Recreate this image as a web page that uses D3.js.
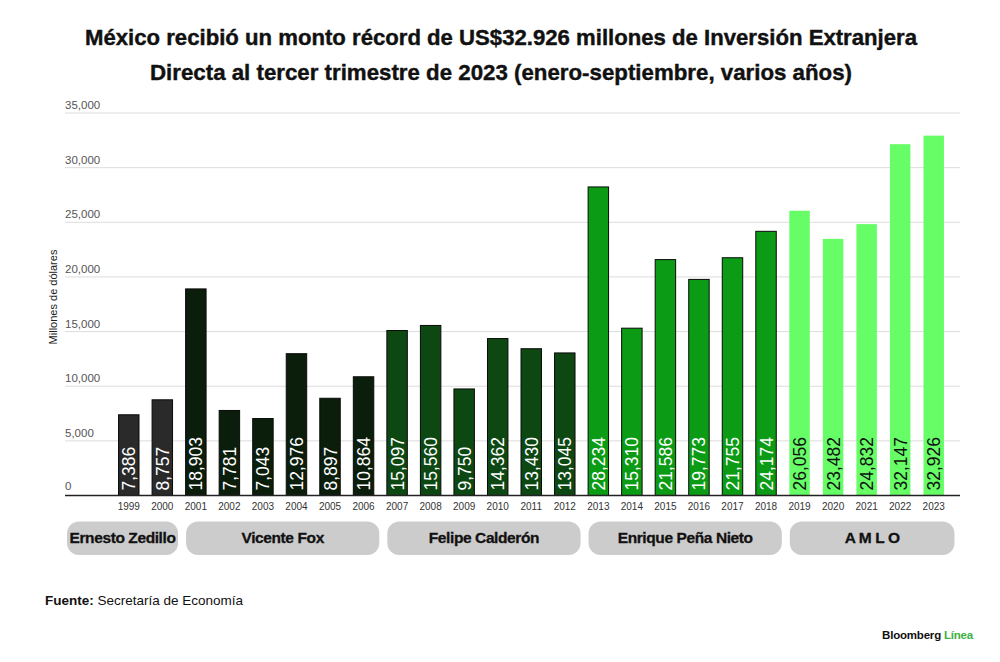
<!DOCTYPE html>
<html>
<head>
<meta charset="utf-8">
<script src="https://cdn.jsdelivr.net/npm/d3@7"></script>
<style>
  body { margin: 0; background: #fff; }
  svg { display: block; font-family: "Liberation Sans", Arial, sans-serif; }
</style>
</head>
<body>
<div id="chart"></div>
<script>
const years = [1999, 2000, 2001, 2002, 2003, 2004, 2005, 2006, 2007, 2008, 2009, 2010, 2011, 2012,
  2013, 2014, 2015, 2016, 2017, 2018, 2019, 2020, 2021, 2022, 2023];
const values = [7386, 8757, 18903, 7781, 7043, 12976, 8897, 10864, 15097, 15560, 9750, 14362, 13430, 13045,
  28234, 15310, 21586, 19773, 21755, 24174, 26056, 23482, 24832, 32147, 32926];
const presidents = ['Ernesto Zedillo', 'Vicente Fox', 'Felipe Calderón', 'Enrique Peña Nieto', 'A M L O'];
const termStart = [1999, 2001, 2007, 2013, 2019];
const termEnd = [2000, 2006, 2012, 2018, 2023];
const termColors = ['#2a2a2a', '#0b1d0b', '#0d4813', '#0c9b14', '#66fd66'];
const labelColors = ['#fff', '#fff', '#fff', '#fff', '#111'];
const yTicks = [0, 5000, 10000, 15000, 20000, 25000, 30000, 35000];

const width = 1000;
const height = 662;
const plotLeft = 65;
const plotRight = 960;

const data = years.map((yr, i) => ({
  year: yr,
  value: values[i],
  term: termStart.findIndex((s, k) => yr >= s && yr <= termEnd[k])
}));

const xScale = d3.scaleBand()
  .domain(years)
  .range([112, 950.5])
  .paddingInner(0.39)
  .paddingOuter(0.195);

const yScale = d3.scaleLinear()
  .domain([0, 35000])
  .range([495.5, 113]);

const fmt = d3.format(',');

const svg = d3.select('#chart')
  .append('svg')
  .attr('width', width)
  .attr('height', height)
  .attr('viewBox', `0 0 ${width} ${height}`);

// title
const titleLines = [
  'México recibió un monto récord de US$32.926 millones de Inversión Extranjera',
  'Directa al tercer trimestre de 2023 (enero-septiembre, varios años)'
];
const titleWidths = [832, 702];
svg.selectAll('text.title')
  .data(titleLines)
  .join('text')
  .attr('class', 'title')
  .attr('x', 501)
  .attr('y', (d, i) => 45 + i * 35)
  .attr('text-anchor', 'middle')
  .attr('textLength', (d, i) => titleWidths[i])
  .attr('lengthAdjust', 'spacingAndGlyphs')
  .style('font-size', '21.5px')
  .style('font-weight', 'bold')
  .style('fill', '#111')
  .style('stroke', '#111')
  .style('stroke-width', 0.4)
  .text(d => d);

// grid + y labels
const grid = svg.append('g');
grid.selectAll('line')
  .data(yTicks.slice(1))
  .join('line')
  .attr('x1', plotLeft)
  .attr('x2', plotRight)
  .attr('y1', d => yScale(d))
  .attr('y2', d => yScale(d))
  .style('stroke', '#dcdcdc')
  .style('stroke-width', 1);

grid.selectAll('text')
  .data(yTicks)
  .join('text')
  .attr('x', plotLeft)
  .attr('y', d => yScale(d) - (d === 0 ? 6 : 4))
  .style('font-size', '11.5px')
  .style('fill', '#555')
  .text(d => fmt(d));

svg.append('text')
  .attr('transform', `translate(57,297) rotate(-90)`)
  .attr('text-anchor', 'middle')
  .style('font-size', '11px')
  .style('fill', '#222')
  .text('Millones de dólares');

// bars
svg.append('g')
  .selectAll('rect')
  .data(data)
  .join('rect')
  .attr('x', d => xScale(d.year))
  .attr('y', d => yScale(d.value))
  .attr('width', xScale.bandwidth())
  .attr('height', d => yScale(0) - yScale(d.value))
  .style('fill', d => termColors[d.term])
  .style('stroke', d => d.term === 4 ? 'none' : '#0a0a0a')
  .style('stroke-width', 1);

// value labels
svg.append('g')
  .selectAll('text')
  .data(data)
  .join('text')
  .attr('transform', d => `translate(${xScale(d.year) + xScale.bandwidth() / 2 + 6.5},${yScale(0) - 5}) rotate(-90)`)
  .style('font-size', '17.5px')
  .style('fill', d => labelColors[d.term])
  .text(d => fmt(d.value));

// baseline
svg.append('line')
  .attr('x1', plotLeft)
  .attr('x2', plotRight)
  .attr('y1', yScale(0))
  .attr('y2', yScale(0))
  .style('stroke', '#222')
  .style('stroke-width', 1.5);

// year labels
svg.append('g')
  .selectAll('text')
  .data(years)
  .join('text')
  .attr('x', d => xScale(d) + xScale.bandwidth() / 2)
  .attr('y', 510)
  .attr('text-anchor', 'middle')
  .style('font-size', '10px')
  .style('fill', '#333')
  .text(d => d);

// president pills
const gap = (xScale.step() - xScale.bandwidth()) / 2;
const pills = presidents.map((name, i) => {
  const s = xScale(termStart[i]) - gap;
  const e = xScale(termEnd[i]) + xScale.bandwidth() + gap;
  const x0 = i === 0 ? plotLeft + 2 : s + 7;
  const x1 = i === presidents.length - 1 ? e + 4 : e - 1;
  return { name, x0, x1 };
});

const pg = svg.append('g');
pg.selectAll('rect')
  .data(pills)
  .join('rect')
  .attr('x', d => d.x0)
  .attr('y', 521.5)
  .attr('width', d => d.x1 - d.x0)
  .attr('height', 33.5)
  .attr('rx', 12)
  .style('fill', '#cccccc');

pg.selectAll('text')
  .data(pills)
  .join('text')
  .attr('x', d => (d.x0 + d.x1) / 2)
  .attr('y', 542.5)
  .attr('text-anchor', 'middle')
  .style('font-size', '15.5px')
  .style('font-weight', 'bold')
  .style('letter-spacing', '-0.4px')
  .style('fill', '#111')
  .style('stroke', '#111')
  .style('stroke-width', 0.3)
  .text(d => d.name);

// footer
const src = svg.append('text')
  .attr('x', 45)
  .attr('y', 605)
  .style('font-size', '13.5px')
  .style('fill', '#111');
src.append('tspan').style('font-weight', 'bold').text('Fuente: ');
src.append('tspan').text('Secretaría de Economía');

const brand = svg.append('text')
  .attr('x', 973)
  .attr('y', 639)
  .attr('text-anchor', 'end')
  .style('font-size', '11.5px')
  .style('font-weight', 'bold')
  .style('letter-spacing', '-0.2px');
brand.append('tspan').style('fill', '#111').text('Bloomberg ');
brand.append('tspan').style('fill', '#3cb043').text('Línea');
</script>
</body>
</html>
